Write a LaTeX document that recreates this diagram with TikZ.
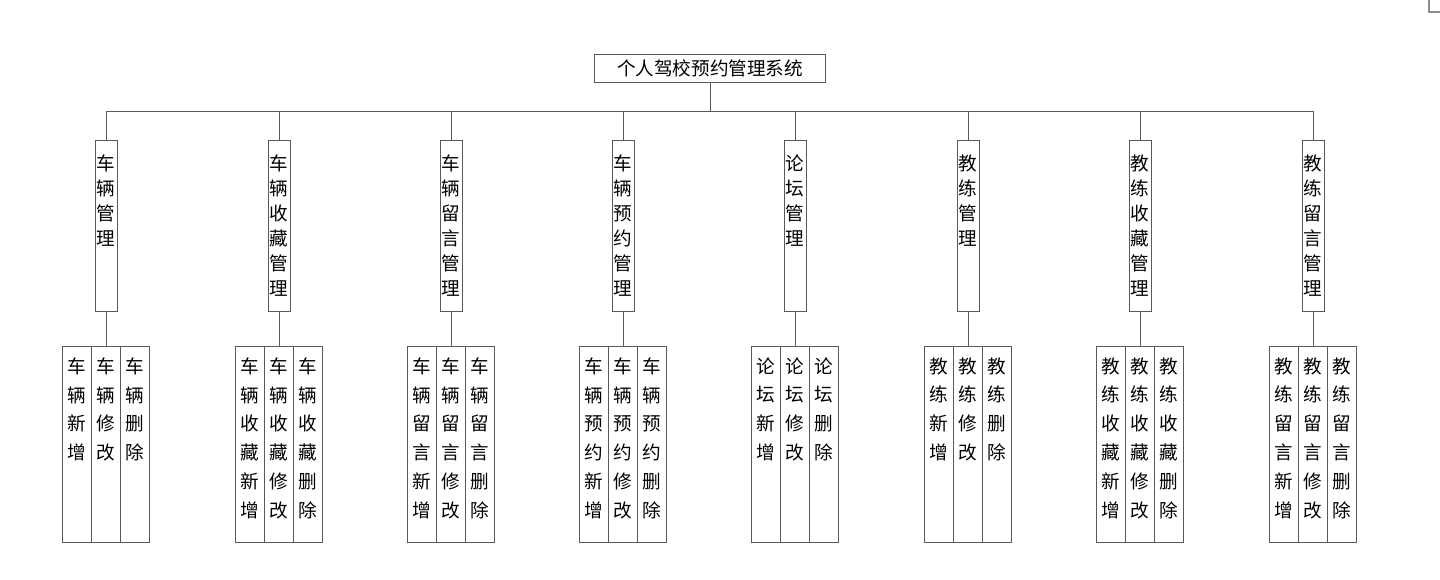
\documentclass[tikz,border=0pt]{standalone}
\usepackage{fontspec}
\setmainfont{Noto Sans CJK SC}
\usetikzlibrary{positioning}

% vertical columns of text, top aligned
\newcommand{\midcol}[1]{\parbox[t][171pt][t]{22pt}{\centering\fontsize{18.6}{25}\selectfont\vspace*{14pt}#1}}
\newcommand{\leafcol}[1]{\parbox[t][196pt][t]{29pt}{\centering\fontsize{18.6}{28.8}\selectfont\vspace*{11pt}#1}}

\begin{document}
\begin{tikzpicture}[x=1pt,y=-1pt,
    box/.style={draw=black!65,line width=1pt,inner sep=0pt},
    mid/.style={box,anchor=north},
    leaf/.style={box,anchor=north},
    link/.style={draw=black!65,line width=1pt}]

            % \draw [help lines] (0,0) grid (1440,579);
            \useasboundingbox (0,0) rectangle (1440,579);

            % corner mark
            \draw[black!45,line width=1.2pt] (1429,0) -- (1429,12) -- (1440,12);

            \path   (710,68) node (r) [box,minimum width=231,minimum height=28,font=\fontsize{18.6}{22}\selectfont] {个人驾校预约管理系统};

            \coordinate (bus) at (710,111);

            \path   (106,140) node (a) [mid] {\midcol{车\\辆\\管\\理}}
                    (279,140) node (b) [mid] {\midcol{车\\辆\\收\\藏\\管\\理}}
                    (451,140) node (c) [mid] {\midcol{车\\辆\\留\\言\\管\\理}}
                    (623,140) node (d) [mid] {\midcol{车\\辆\\预\\约\\管\\理}}
                    (795,140) node (e) [mid] {\midcol{论\\坛\\管\\理}}
                    (968,140) node (f) [mid] {\midcol{教\\练\\管\\理}}
                    (1140,140) node (g) [mid] {\midcol{教\\练\\收\\藏\\管\\理}}
                    (1313,140) node (h) [mid] {\midcol{教\\练\\留\\言\\管\\理}};

            \path   (77,346) node (a1) [leaf] {\leafcol{车\\辆\\新\\增}}
                    (106,346) node (a2) [leaf] {\leafcol{车\\辆\\修\\改}}
                    (135,346) node (a3) [leaf] {\leafcol{车\\辆\\删\\除}}

                    (250,346) node (b1) [leaf] {\leafcol{车\\辆\\收\\藏\\新\\增}}
                    (279,346) node (b2) [leaf] {\leafcol{车\\辆\\收\\藏\\修\\改}}
                    (308,346) node (b3) [leaf] {\leafcol{车\\辆\\收\\藏\\删\\除}}

                    (422,346) node (c1) [leaf] {\leafcol{车\\辆\\留\\言\\新\\增}}
                    (451,346) node (c2) [leaf] {\leafcol{车\\辆\\留\\言\\修\\改}}
                    (480,346) node (c3) [leaf] {\leafcol{车\\辆\\留\\言\\删\\除}}

                    (594,346) node (d1) [leaf] {\leafcol{车\\辆\\预\\约\\新\\增}}
                    (623,346) node (d2) [leaf] {\leafcol{车\\辆\\预\\约\\修\\改}}
                    (652,346) node (d3) [leaf] {\leafcol{车\\辆\\预\\约\\删\\除}}

                    (766,346) node (e1) [leaf] {\leafcol{论\\坛\\新\\增}}
                    (795,346) node (e2) [leaf] {\leafcol{论\\坛\\修\\改}}
                    (824,346) node (e3) [leaf] {\leafcol{论\\坛\\删\\除}}

                    (939,346) node (f1) [leaf] {\leafcol{教\\练\\新\\增}}
                    (968,346) node (f2) [leaf] {\leafcol{教\\练\\修\\改}}
                    (997,346) node (f3) [leaf] {\leafcol{教\\练\\删\\除}}

                    (1111,346) node (g1) [leaf] {\leafcol{教\\练\\收\\藏\\新\\增}}
                    (1140,346) node (g2) [leaf] {\leafcol{教\\练\\收\\藏\\修\\改}}
                    (1169,346) node (g3) [leaf] {\leafcol{教\\练\\收\\藏\\删\\除}}

                    (1284,346) node (h1) [leaf] {\leafcol{教\\练\\留\\言\\新\\增}}
                    (1313,346) node (h2) [leaf] {\leafcol{教\\练\\留\\言\\修\\改}}
                    (1342,346) node (h3) [leaf] {\leafcol{教\\练\\留\\言\\删\\除}};

            \draw[link] (node cs: name =r) -- (bus);
            \draw[link] (bus) -| (node cs:name =a);
            \draw[link] (bus) -| (node cs:name =b);
            \draw[link] (bus) -| (node cs:name =c);
            \draw[link] (bus) -| (node cs:name =d);
            \draw[link] (bus) -| (node cs:name =e);
            \draw[link] (bus) -| (node cs:name =f);
            \draw[link] (bus) -| (node cs:name =g);
            \draw[link] (bus) -| (node cs:name =h);

            \draw[link] (a.south) -- (a2.north);
            \draw[link] (b.south) -- (b2.north);
            \draw[link] (c.south) -- (c2.north);
            \draw[link] (d.south) -- (d2.north);
            \draw[link] (e.south) -- (e2.north);
            \draw[link] (f.south) -- (f2.north);
            \draw[link] (g.south) -- (g2.north);
            \draw[link] (h.south) -- (h2.north);
        \end{tikzpicture}
\end{document}
